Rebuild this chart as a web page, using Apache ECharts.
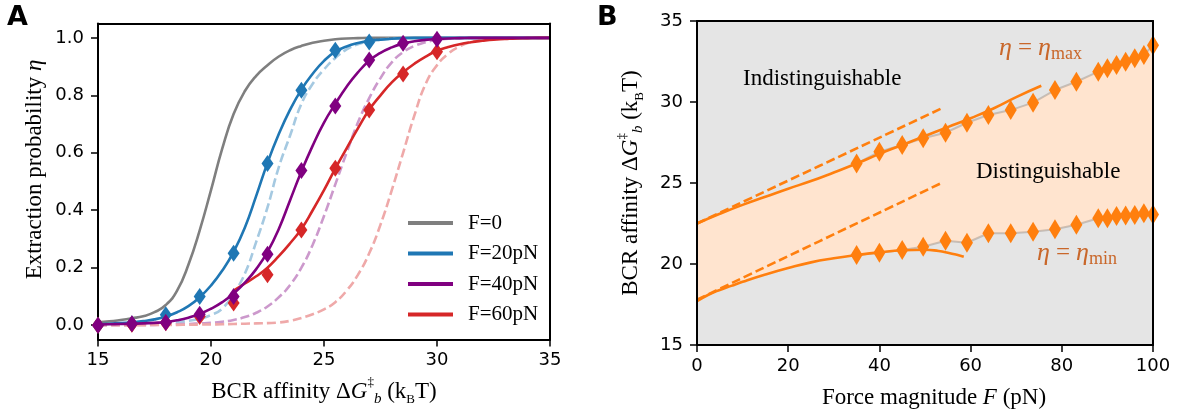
<!DOCTYPE html>
<html><head><meta charset="utf-8">
<script src="https://cdn.jsdelivr.net/npm/echarts@6/dist/echarts.min.js"></script>
<style>html,body{margin:0;padding:0;background:#fff}#c{width:1185px;height:420px}</style>
</head><body><div id="c"></div>
<script>
// ---------- Panel A data ----------
const xA = [15,15.5,16,16.5,17,17.5,18,18.5,19,19.5,20,20.5,21,21.5,22,22.5,23,23.5,24,24.5,25,25.5,26,26.5,27,27.5,28,28.5,29,29.5,30,30.5,31,31.5,32,32.5,33,33.5,34,34.5,35];
const grayF0 = [0.010,0.013,0.018,0.024,0.031,0.045,0.070,0.12,0.21,0.33,0.47,0.615,0.735,0.815,0.868,0.905,0.935,0.957,0.972,0.983,0.99,0.995,0.998,0.999,1,1,1,1,1,1,1,1,1,1,1,1,1,1,1,1,1];
const blueF20 = [0.004,0.005,0.007,0.01,0.014,0.02,0.03,0.045,0.066,0.097,0.138,0.19,0.255,0.34,0.45,0.565,0.665,0.75,0.82,0.875,0.92,0.952,0.97,0.982,0.99,0.994,0.997,0.999,1,1,1,1,1,1,1,1,1,1,1,1,1];
const blueF20Dash = [0.0005,0.001,0.0015,0.002,0.003,0.005,0.007,0.01,0.015,0.022,0.035,0.058,0.11,0.18,0.29,0.41,0.55,0.66,0.77,0.84,0.89,0.93,0.96,0.978,0.988,0.994,0.997,0.999,1,1,1,1,1,1,1,1,1,1,1,1,1];
const purpleF40 = [0.002,0.003,0.004,0.005,0.006,0.008,0.011,0.017,0.026,0.039,0.057,0.08,0.11,0.148,0.195,0.255,0.335,0.435,0.535,0.625,0.705,0.77,0.83,0.88,0.92,0.948,0.967,0.98,0.988,0.993,0.996,0.998,0.999,1,1,1,1,1,1,1,1];
const purpleF40Dash = [0,0,0,0,0.001,0.001,0.002,0.003,0.004,0.006,0.008,0.012,0.018,0.028,0.043,0.065,0.097,0.14,0.2,0.28,0.38,0.49,0.6,0.705,0.79,0.86,0.915,0.95,0.972,0.985,0.993,0.997,0.999,1,1,1,1,1,1,1,1];
const redF60 = [null,null,null,null,null,null,null,null,null,null,null,null,0.12,0.145,0.17,0.2,0.24,0.285,0.335,0.4,0.47,0.545,0.615,0.685,0.75,0.8,0.845,0.88,0.91,0.935,0.955,0.968,0.978,0.985,0.99,0.994,0.996,0.998,0.999,1,1];
const redF60Dash = [0,0,0,0,0,0.0005,0.0007,0.001,0.0015,0.002,0.0025,0.003,0.004,0.005,0.006,0.007,0.009,0.015,0.025,0.038,0.055,0.08,0.12,0.175,0.25,0.35,0.47,0.6,0.73,0.84,0.905,0.945,0.97,0.985,0.993,0.997,0.999,1,1,1,1];
const xMarkers = [15,16.5,18,19.5,21,22.5,24,25.5,27,28.5,30];
const blueMarkers = [0.0,0.005,0.036,0.10,0.25,0.563,0.818,0.957,0.986];
const purpleMarkers = [0.0,0.005,0.009,0.038,0.10,0.247,0.538,0.763,0.923,0.981,0.995];
const redMarkers = [0.0,0.003,0.008,0.03,0.077,0.175,0.331,0.546,0.749,0.874,0.952];
const yTicksA = [0,0.2,0.4,0.6,0.8,1.0];
const legendNames = ['F=0','F=20pN','F=40pN','F=60pN'];

// ---------- Panel B data ----------
const upperF = [0,5,10,15,20,25,30,35,40,45,50,55,60,65,70,75.5];
const upperG = [22.5,23.1,23.65,24.15,24.65,25.12,25.65,26.2,26.8,27.35,27.9,28.45,29.0,29.6,30.3,31.0];
const lowerF = [0,2.5,5,7.5,10,15,20,25,30,35,40,45,50,53,55,57,58.5];
const lowerG = [17.7,18.1,18.4,18.65,18.9,19.35,19.75,20.1,20.35,20.55,20.72,20.85,20.88,20.8,20.7,20.57,20.45];
const upperDashF = [0,53.6];
const upperDashG = [22.5,29.6];
const lowerDashF = [0,53.6];
const lowerDashG = [17.8,25.0];
const markF = [35,40,45,49.6,54.5,59.2,63.9,68.8,73.7,78.5,83.2,88,90,92,94,96,98,100];
const maxG = [26.2,26.93,27.35,27.76,28.1,28.72,29.2,29.5,29.96,30.74,31.25,31.87,32.08,32.28,32.49,32.7,32.9,33.5];
const minG = [20.56,20.7,20.86,21.07,21.44,21.31,21.9,21.9,21.99,22.14,22.42,22.82,22.82,22.96,23.0,23.02,23.13,23.05];

// ---------- helpers ----------
const zip = (xs, ys) => xs.map((x, i) => [x, ys[i]]).filter(p => p[1] !== null);
const SERIF = 'Liberation Serif';
const SANS = 'DejaVu Sans';
const ORANGE = '#ff7f0e';

function curve(name, xs, ys, color, dashed, xi, yi, z) {
  return {
    type: 'line', name, data: zip(xs, ys), xAxisIndex: xi, yAxisIndex: yi, z,
    symbol: 'none', showSymbol: false, smooth: 0.5, silent: true,
    lineStyle: { color, width: 2.6, type: dashed ? [9, 4] : 'solid', cap: 'butt' },
    itemStyle: { color }
  };
}
function marks(name, xs, ys, color, xi, yi, size, clip, z) {
  return {
    type: 'scatter', name, data: zip(xs, ys), xAxisIndex: xi, yAxisIndex: yi, z,
    symbol: 'diamond', symbolSize: size, clip, silent: true,
    itemStyle: { color, opacity: 1 }
  };
}

const nameRich = {
  it: { fontFamily: SERIF, fontStyle: 'italic', fontSize: 23, lineHeight: 30, color: '#000' },
  sup: { fontFamily: SERIF, fontSize: 13, verticalAlign: 'top', lineHeight: 14, color: '#000' },
  sub: { fontFamily: SERIF, fontStyle: 'italic', fontSize: 15, verticalAlign: 'bottom', lineHeight: 14, color: '#000' },
  sc: { fontFamily: SERIF, fontSize: 13, verticalAlign: 'bottom', lineHeight: 16, color: '#000' }
};
const affinityName = 'BCR affinity Δ{it|G}{sup|‡}{sub|b} (k{sc|B}T)';

const axLine = { show: true, onZero: false, lineStyle: { color: '#000', width: 2 } };
const axTick = { show: true, inside: false, length: 7, lineStyle: { color: '#000', width: 1.5 } };
const axLabel = { fontFamily: SANS, fontSize: 18, color: '#000', margin: 12 };
const borderAxis = (gi, pos, min, max) => ({
  gridIndex: gi, type: 'value', position: pos, min, max, z: 10,
  axisLine: axLine, axisTick: { show: false }, axisLabel: { show: false }, splitLine: { show: false }
});

const EC = '#c9672a';
const tEta = {
  i: { fontFamily: SERIF, fontStyle: 'italic', fontWeight: 'normal', fontSize: 26, lineHeight: 30, color: EC },
  n: { fontFamily: SERIF, fontWeight: 'normal', fontSize: 25, lineHeight: 30, color: EC, padding: [0, 6, 0, 6] },
  s: { fontFamily: SERIF, fontWeight: 'normal', fontSize: 18, lineHeight: 20, verticalAlign: 'bottom', color: EC }
};

const bandUpper = zip(upperF, upperG).filter(p => p[0] < 35).concat(zip(markF, maxG));
const bandLower = zip(lowerF, lowerG).filter(p => p[0] < 35).concat(zip(markF, minG));

const chart = echarts.init(document.getElementById('c'), null, { renderer: 'canvas' });
chart.setOption({
  animation: false,
  backgroundColor: '#fff',
  title: [
    { text: 'A', left: 7, top: 4, padding: 0, textStyle: { fontFamily: SANS, fontWeight: 'bold', fontSize: 27, color: '#000' } },
    { text: 'B', left: 597, top: 4, padding: 0, textStyle: { fontFamily: SANS, fontWeight: 'bold', fontSize: 27, color: '#000' } },
    { text: 'Indistinguishable', left: 743, top: 67, padding: 0, textStyle: { fontFamily: SERIF, fontWeight: 'normal', fontSize: 23, color: '#000' } },
    { text: 'Distinguishable', left: 976, top: 160, padding: 0, textStyle: { fontFamily: SERIF, fontWeight: 'normal', fontSize: 23, color: '#000' } },
    { text: '{i|η}{n|=}{i|η}{s|max}', left: 999, top: 33, padding: 0, textStyle: { fontWeight: 'normal', rich: tEta } },
    { text: '{i|η}{n|=}{i|η}{s|min}', left: 1037, top: 238, padding: 0, textStyle: { fontWeight: 'normal', rich: tEta } }
  ],
  legend: {
    data: legendNames, orient: 'vertical', left: 403, top: 207, icon: 'rect',
    itemWidth: 45, itemHeight: 4, itemGap: 8.5, selectedMode: false,
    textStyle: { fontFamily: SERIF, fontSize: 21, lineHeight: 22, color: '#000', padding: [0, 0, 0, 10] }
  },
  grid: [
    { left: 98, top: 23.5, width: 452, height: 316, show: false },
    { left: 697, top: 21, width: 456, height: 324, show: true, backgroundColor: '#e5e5e5', borderWidth: 0 }
  ],
  xAxis: [
    { gridIndex: 0, type: 'value', position: 'bottom', min: 15, max: 35, interval: 5,
      axisLine: axLine, axisTick: axTick, axisLabel: axLabel, splitLine: { show: false },
      name: affinityName, nameLocation: 'middle', nameGap: 37,
      nameTextStyle: { fontFamily: SERIF, fontSize: 23, lineHeight: 30, color: '#000', rich: nameRich } },
    borderAxis(0, 'top', 15, 35),
    { gridIndex: 1, type: 'value', position: 'bottom', min: 0, max: 100, interval: 20, z: 10,
      axisLine: axLine, axisTick: axTick, axisLabel: axLabel, splitLine: { show: false },
      name: 'Force magnitude {it|F} (pN)', nameLocation: 'middle', nameGap: 38,
      nameTextStyle: { fontFamily: SERIF, fontSize: 23, lineHeight: 30, color: '#000', rich: nameRich, padding: [0, 0, 0, 18] } },
    borderAxis(1, 'top', 0, 100)
  ],
  yAxis: [
    { gridIndex: 0, type: 'value', position: 'left', min: -0.05, max: 1.05,
      axisLine: axLine,
      axisTick: Object.assign({ customValues: yTicksA }, axTick),
      axisLabel: Object.assign({ customValues: yTicksA, formatter: v => Number(v).toFixed(1) }, axLabel, { margin: 14 }),
      splitLine: { show: false },
      name: 'Extraction probability {it|η}', nameLocation: 'middle', nameGap: 48,
      nameTextStyle: { fontFamily: SERIF, fontSize: 23, lineHeight: 30, color: '#000', rich: nameRich, padding: [0, 0, 0, 24] } },
    borderAxis(0, 'right', -0.05, 1.05),
    { gridIndex: 1, type: 'value', position: 'left', min: 15, max: 35, interval: 5, z: 10,
      axisLine: axLine, axisTick: axTick, axisLabel: Object.assign({}, axLabel, { margin: 14 }), splitLine: { show: false },
      name: affinityName, nameLocation: 'middle', nameGap: 51,
      nameTextStyle: { fontFamily: SERIF, fontSize: 23, lineHeight: 30, color: '#000', rich: nameRich } },
    borderAxis(1, 'right', 15, 35)
  ],
  series: [
    // Panel A
    curve('F=0', xA, grayF0, '#7f7f7f', false, 0, 0, 2),
    curve('F=20pN pred', xA, blueF20Dash, '#a5c9e1', true, 0, 0, 2),
    curve('F=40pN pred', xA, purpleF40Dash, '#cc99cc', true, 0, 0, 2),
    curve('F=60pN pred', xA, redF60Dash, '#efa9a9', true, 0, 0, 2),
    curve('F=20pN', xA, blueF20, '#1f77b4', false, 0, 0, 3),
    marks('F=20pN sim', xMarkers.slice(0, blueMarkers.length), blueMarkers, '#1f77b4', 0, 0, [12, 17], false, 4),
    curve('F=60pN', xA, redF60, '#d62728', false, 0, 0, 5),
    marks('F=60pN sim', xMarkers, redMarkers, '#d62728', 0, 0, [12, 17], false, 6),
    curve('F=40pN', xA, purpleF40, '#800080', false, 0, 0, 7),
    marks('F=40pN sim', xMarkers, purpleMarkers, '#800080', 0, 0, [12, 17], false, 8),
    // Panel B fills
    { type: 'line', name: 'band upper', data: bandUpper, xAxisIndex: 2, yAxisIndex: 2, symbol: 'none', silent: true, z: 1,
      lineStyle: { opacity: 0, width: 0 }, areaStyle: { color: '#ffe4cf', opacity: 1, origin: 'start' } },
    { type: 'line', name: 'band lower', data: bandLower, xAxisIndex: 2, yAxisIndex: 2, symbol: 'none', silent: true, z: 1.5,
      lineStyle: { opacity: 0, width: 0 }, areaStyle: { color: '#e5e5e5', opacity: 1, origin: 'start' } },
    // marker guide lines
    { type: 'line', name: 'max guide', data: zip(markF, maxG), xAxisIndex: 2, yAxisIndex: 2, symbol: 'none', silent: true, z: 3,
      lineStyle: { color: 'rgba(150,140,130,0.45)', width: 2 } },
    { type: 'line', name: 'min guide', data: zip(markF, minG), xAxisIndex: 2, yAxisIndex: 2, symbol: 'none', silent: true, z: 3,
      lineStyle: { color: 'rgba(150,140,130,0.45)', width: 2 } },
    curve('upper theory', upperF, upperG, ORANGE, false, 2, 2, 4),
    curve('lower theory', lowerF, lowerG, ORANGE, false, 2, 2, 4),
    curve('upper approx', upperDashF, upperDashG, ORANGE, true, 2, 2, 4),
    curve('lower approx', lowerDashF, lowerDashG, ORANGE, true, 2, 2, 4),
    marks('eta max', markF, maxG, ORANGE, 2, 2, [12, 20], true, 6),
    marks('eta min', markF, minG, ORANGE, 2, 2, [12, 20], true, 6)
  ]
});
</script>
</body></html>
